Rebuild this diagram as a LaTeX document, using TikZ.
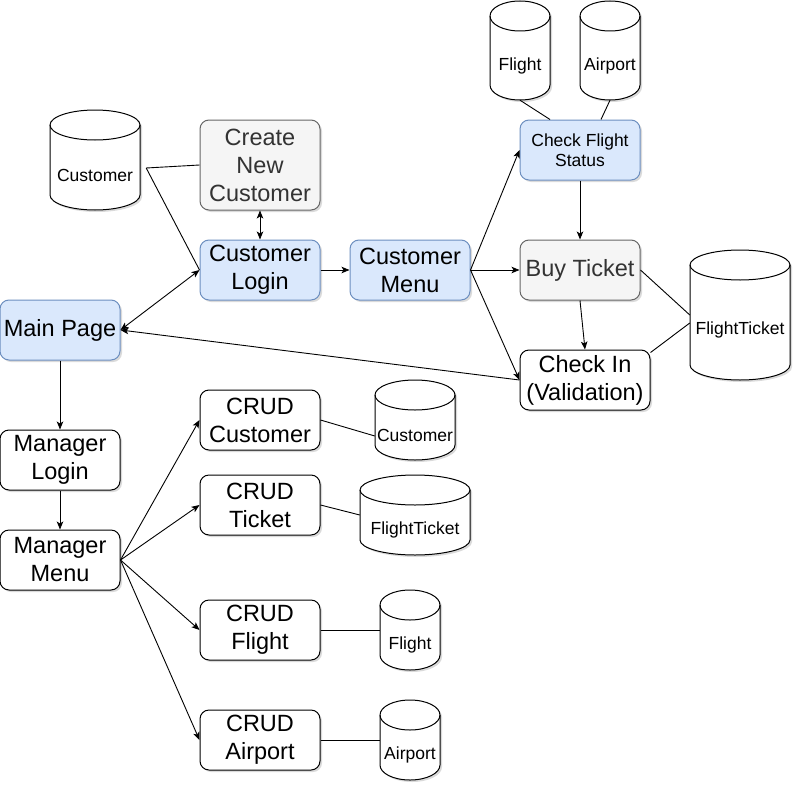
\documentclass[tikz,border=0pt]{standalone}
\usepackage{fontspec}
\setmainfont{Liberation Sans}
\usetikzlibrary{arrows.meta,shadows,calc}
\definecolor{bluefill}{HTML}{DAE8FC}
\definecolor{bluedraw}{HTML}{6C8EBF}
\definecolor{grayfill}{HTML}{F5F5F5}
\definecolor{graydraw}{HTML}{666666}
\definecolor{graytext}{HTML}{333333}
\tikzset{
  shad/.style={drop shadow={shadow xshift=2pt,shadow yshift=-2pt,opacity=0.18,fill=black!80}},
  box/.style={rectangle, rounded corners=9pt, draw=black, fill=white, line width=1pt,
    minimum width=120pt, minimum height=60pt, inner sep=2pt, align=center,
    font=\fontsize{23.5}{28}\selectfont, shad},
  bluebox/.style={box, fill=bluefill, draw=bluedraw},
  graybox/.style={box, fill=grayfill, draw=graydraw, text=graytext},
  smalltext/.style={font=\fontsize{17.5}{20}\selectfont},
  dbbox/.style={rectangle, draw=none, inner sep=0pt},
  dbline/.style={draw=black, fill=white, line width=1pt},
  dbtext/.style={font=\fontsize{17.5}{20}\selectfont, inner sep=0pt},
  conn/.style={draw=black, line width=0.9pt},
  arr/.style={conn, -{Stealth[length=8pt,width=6.5pt,inset=2pt]}},
  darr/.style={conn, {Stealth[length=8pt,width=6.5pt,inset=2pt]}-{Stealth[length=8pt,width=6.5pt,inset=2pt]}},
}
\newcommand\dbcyl[6]{%
  \node[dbbox, minimum width=#4pt, minimum height=#5pt] (#1) at ({#2+#4/2},{-#3-#5/2}) {};
  \draw[dbline, shad] (#2,{-#3-15}) -- (#2,{-#3-#5+15})
     arc[start angle=180,end angle=360,x radius={#4/2},y radius=15]
     -- ({#2+#4},{-#3-15})
     arc[start angle=0,end angle=180,x radius={#4/2},y radius=15] -- cycle;
  \draw[dbline, fill=none] (#2,{-#3-15}) arc[start angle=180,end angle=360,x radius={#4/2},y radius=15];
  \node[dbtext] at ({#2+#4/2},{-#3-(#5+30)/2}) {#6};
}
\begin{document}
\begin{tikzpicture}[x=1pt,y=1pt]
\useasboundingbox (0,0) rectangle (802,-792);
% process boxes
\node[graybox, minimum height=90pt] (cnc) at (260,-165) {Create\\New\\Customer};
\node[bluebox] (clogin) at (260,-270) {Customer\\Login};
\node[bluebox] (cmenu) at (410,-270) {Customer\\Menu};
\node[bluebox, smalltext] (cfs) at (580,-150) {Check Flight\\Status};
\node[graybox] (buy) at (580,-270) {Buy Ticket};
\node[box, minimum width=130pt] (checkin) at (585,-380) {Check In\\(Validation)};
\node[bluebox] (main) at (60,-330) {Main Page};
\node[box] (mlogin) at (60,-460) {Manager\\Login};
\node[box] (mmenu) at (60,-560) {Manager\\Menu};
\node[box] (crudc) at (260,-420) {CRUD\\Customer};
\node[box] (crudt) at (260,-505) {CRUD\\Ticket};
\node[box] (crudf) at (260,-630) {CRUD\\Flight};
\node[box] (cruda) at (260,-740) {CRUD\\Airport};
% databases
\dbcyl{dbcust}{50}{110}{90}{100}{Customer}
\dbcyl{dbflight}{490}{1}{60}{99}{Flight}
\dbcyl{dbair}{580}{1}{60}{99}{Airport}
\dbcyl{dbft}{690}{250}{100}{130}{FlightTicket}
\dbcyl{dbcust2}{375}{380}{80}{80}{Customer}
\dbcyl{dbft2}{360}{475}{110}{80}{FlightTicket}
\dbcyl{dbfl2}{380}{590}{60}{80}{Flight}
\dbcyl{dbair2}{380}{700}{60}{80}{Airport}
% connectors
\draw[conn] ([xshift=6pt,yshift=-8pt]dbcust.east) -- (cnc.west);
\draw[conn] ([xshift=6pt,yshift=-8pt]dbcust.east) -- (clogin.west);
\draw[darr] (cnc.south) -- (clogin.north);
\draw[darr] (main.east) -- (clogin.west);
\draw[arr] (clogin.east) -- (cmenu.west);
\draw[arr] (cmenu.east) -- (cfs.west);
\draw[arr] (cmenu.east) -- (buy.west);
\draw[arr] (cmenu.east) -- (checkin.west);
\draw[arr] (cfs.south) -- (buy.north);
\draw[arr] (buy.south) -- (checkin.north);
\draw[conn] (dbflight.south) -- ([xshift=-30pt]cfs.north);
\draw[conn] (dbair.south) -- ([xshift=21pt]cfs.north);
\draw[conn] (buy.east) -- (dbft.west);
\draw[conn] ([yshift=-3pt]checkin.north east) -- ([yshift=-8pt]dbft.west);
\draw[arr] (checkin.west) -- (main.east);
\draw[arr] (main.south) -- (mlogin.north);
\draw[arr] (mlogin.south) -- (mmenu.north);
\draw[arr] (mmenu.east) -- (crudc.west);
\draw[arr] (mmenu.east) -- (crudt.west);
\draw[arr] (mmenu.east) -- (crudf.west);
\draw[arr] (mmenu.east) -- (cruda.west);
\draw[conn] (crudc.east) -- ([yshift=-16pt]dbcust2.west);
\draw[conn] (crudt.east) -- (dbft2.west);
\draw[conn] (crudf.east) -- (dbfl2.west);
\draw[conn] (cruda.east) -- (dbair2.west);
\end{tikzpicture}
\end{document}
